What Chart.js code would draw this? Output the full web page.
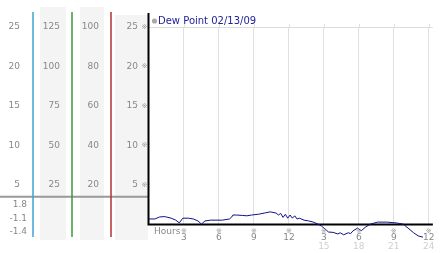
<!DOCTYPE html>
<html>
<head>
<meta charset="utf-8">
<script src="https://cdn.jsdelivr.net/npm/chart.js@4.4.1/dist/chart.umd.min.js"></script>
<style>
html, body { margin: 0; padding: 0; background: #fff; }
canvas { display: block; }
</style>
</head>
<body>
<canvas id="dewChart" width="442" height="253"></canvas>
<script>
// data
var seriesLabel = 'Dew Point 02/13/09';
var hours = [0, 0.5, 0.9, 1.3, 1.5, 1.9, 2.3, 2.6, 2.9, 3.4, 3.8, 4.2, 4.5, 4.8, 5.3, 6.3, 6.9, 7.1, 7.2,
    7.5, 8.0, 8.4, 8.8, 9.4, 9.9, 10.4, 10.9, 11.1, 11.3, 11.5, 11.7, 11.9, 12.1, 12.3, 12.5, 12.7, 12.9,
    13.3, 13.7, 14.1, 14.5, 14.8, 15.2, 15.4, 15.8, 16.2, 16.4, 16.7, 17.1, 17.3, 17.5, 17.9, 18.2, 18.6,
    19.0, 19.6, 20.4, 21.2, 21.8, 22.3, 22.7, 23.1, 23.5];
var dewPoint = [0.7, 0.7, 0.95, 1.0, 0.95, 0.8, 0.55, 0.2, 0.8, 0.8, 0.7, 0.45, 0.05, 0.45, 0.55, 0.55, 0.7, 0.95, 1.2,
    1.2, 1.15, 1.1, 1.2, 1.3, 1.45, 1.6, 1.45, 1.2, 1.4, 0.9, 1.3, 0.8, 1.2, 0.8, 1.1, 0.7, 0.8,
    0.55, 0.45, 0.3, 0.05, -0.2, -0.7, -0.95, -1.0, -1.2, -1.05, -1.3, -1.05, -1.15, -0.8, -0.45, -0.8, -0.3,
    0.05, 0.3, 0.3, 0.2, 0.05, -0.55, -1.05, -1.45, -1.6];
var hourTicks = [3, 6, 9, 12, 15, 18, 21, 24];
var tempTicks = [5, 10, 15, 20, 25];
var humTicks = [25, 50, 75, 100, 125];
var pctTicks = [20, 40, 60, 80, 100];
var summaryValues = ['1.8', '-1.1', '-1.4'];

Chart.defaults.font.family = 'DejaVu Sans';
Chart.defaults.font.size = 9;

function tickList(arr) {
    return function (scale) { scale.ticks = arr.map(function (v) { return { value: v }; }); };
}

function sideAxis(max, ticks, weight, width, pad, showGrid) {
    return {
        position: 'left',
        weight: weight,
        min: 0,
        max: max,
        afterBuildTicks: tickList(ticks),
        afterFit: function (s) { s.width = width; },
        border: { display: false },
        grid: {
            display: !!showGrid,
            drawTicks: false,
            color: function (c) { return c.tick && c.tick.value === 25 ? '#dcdcdc' : 'rgba(0,0,0,0)'; }
        },
        ticks: { color: '#888', padding: pad }
    };
}

var decor = {
    id: 'decor',
    beforeDraw: function (chart) {
        var ctx = chart.ctx, a = chart.chartArea;
        var s1 = chart.scales.yC, s2 = chart.scales.yH, s3 = chart.scales.yP, s4 = chart.scales.y;
        var sx = chart.scales.x;
        ctx.save();
        ctx.fillStyle = '#f4f4f4';
        ctx.fillRect(s2.left + 7, a.top - 20, s2.width - 13, a.bottom - a.top + 35.5);
        ctx.fillRect(s3.left + 8, a.top - 20, s3.width - 15, a.bottom - a.top + 35.5);
        ctx.fillRect(s4.left + 4, a.top - 12, s4.width - 5, a.bottom - a.top + 27.5);
        // separator above the summary values
        var sy = s4.getPixelForValue(3.5);
        ctx.strokeStyle = '#999';
        ctx.lineWidth = 2;
        ctx.beginPath(); ctx.moveTo(0, sy); ctx.lineTo(s4.right, sy); ctx.stroke();
        // coloured column rules
        [[s1, '#3fa3d0'], [s2, '#3a9a3a'], [s3, '#b03030']].forEach(function (p) {
            ctx.strokeStyle = p[1];
            ctx.lineWidth = 1.5;
            ctx.beginPath();
            ctx.moveTo(p[0].right, a.top - 15);
            ctx.lineTo(p[0].right, a.bottom + 12.5);
            ctx.stroke();
        });
        // short stubs of the hour grid above the top rule
        ctx.strokeStyle = '#e0e0e0';
        ctx.lineWidth = 1;
        hourTicks.forEach(function (v) {
            var px = Math.round(sx.getPixelForValue(v)) + 0.5;
            ctx.beginPath(); ctx.moveTo(px, a.top - 3); ctx.lineTo(px, a.top); ctx.stroke();
        });
        ctx.restore();
    },
    beforeDatasetsDraw: function (chart) {
        var ctx = chart.ctx, a = chart.chartArea;
        ctx.save();
        ctx.strokeStyle = '#000';
        ctx.lineWidth = 2;
        ctx.beginPath();
        ctx.moveTo(a.left - 0.5, a.top - 14);
        ctx.lineTo(a.left - 0.5, a.bottom);
        ctx.lineTo(a.right, a.bottom);
        ctx.stroke();
        ctx.restore();
    },
    afterDraw: function (chart) {
        var ctx = chart.ctx, a = chart.chartArea;
        var s1 = chart.scales.yC, s4 = chart.scales.y, sx = chart.scales.x;
        ctx.save();
        // legend
        ctx.fillStyle = '#aaa';
        ctx.beginPath(); ctx.arc(a.left + 5.5, a.top - 6, 2.6, 0, Math.PI * 2); ctx.fill();
        ctx.font = '10px "DejaVu Sans"';
        ctx.fillStyle = '#22229a';
        ctx.textBaseline = 'middle';
        ctx.textAlign = 'left';
        ctx.fillText(chart.data.datasets[0].label, a.left + 9, a.top - 6);
        // small tick glyphs
        ctx.font = '7px "DejaVu Sans"';
        ctx.fillStyle = '#999';
        ctx.textAlign = 'center';
        tempTicks.forEach(function (v) {
            ctx.fillText('\u203b', a.left - 4.5, s4.getPixelForValue(v));
        });
        hourTicks.forEach(function (v) {
            ctx.fillText('\u203b', sx.getPixelForValue(v), a.bottom + 6.5);
        });
        // axis caption
        ctx.font = '9px "DejaVu Sans"';
        ctx.fillStyle = '#888';
        ctx.textAlign = 'left';
        ctx.fillText('Hours', a.left + 5, a.bottom + 7.5);
        // summary values under the separator
        ctx.textAlign = 'right';
        var sy = s4.getPixelForValue(3.5);
        summaryValues.forEach(function (t, i) {
            ctx.fillText(t, s1.right - 6, sy + 8 + i * 13.5);
        });
        ctx.restore();
    }
};

var ctx = document.getElementById('dewChart').getContext('2d');
var chart = new Chart(ctx, {
    type: 'line',
    data: {
        datasets: [{
            label: seriesLabel,
            data: hours.map(function (h, i) { return { x: h, y: dewPoint[i] }; }),
            borderColor: '#10108a',
            borderWidth: 1,
            pointRadius: 0,
            tension: 0,
            clip: false
        }]
    },
    options: {
        responsive: false,
        animation: false,
        devicePixelRatio: 1,
        layout: { padding: { top: 27, left: 0, right: 0, bottom: 0 } },
        plugins: { legend: { display: false }, tooltip: { enabled: false } },
        scales: {
            x: {
                type: 'linear',
                position: 'bottom',
                min: 0,
                max: 24.35,
                afterBuildTicks: tickList(hourTicks),
                afterFit: function (s) { s.height = 16.5; },
                border: { display: false },
                grid: { color: '#e0e0e0', drawTicks: false },
                ticks: {
                    color: '#888',
                    padding: 7.5,
                    maxRotation: 0,
                    callback: function (v) { return v > 12 ? v - 12 : v; }
                }
            },
            x2: {
                type: 'linear',
                position: 'bottom',
                min: 0,
                max: 24.35,
                afterBuildTicks: tickList(hourTicks),
                afterFit: function (s) { s.height = 12; },
                border: { display: false },
                grid: { display: false, drawTicks: false },
                ticks: {
                    color: '#cfcfcf',
                    padding: 0,
                    maxRotation: 0,
                    callback: function (v) { return v > 12 ? v : ''; }
                }
            },
            yC: sideAxis(25, tempTicks, 4, 33, 13),
            yH: sideAxis(125, humTicks, 3, 39, 12),
            yP: sideAxis(100, pctTicks, 2, 39, 12),
            y: sideAxis(25, tempTicks, 1, 38, 11, true)
        }
    },
    plugins: [decor]
});
</script>
</body>
</html>
